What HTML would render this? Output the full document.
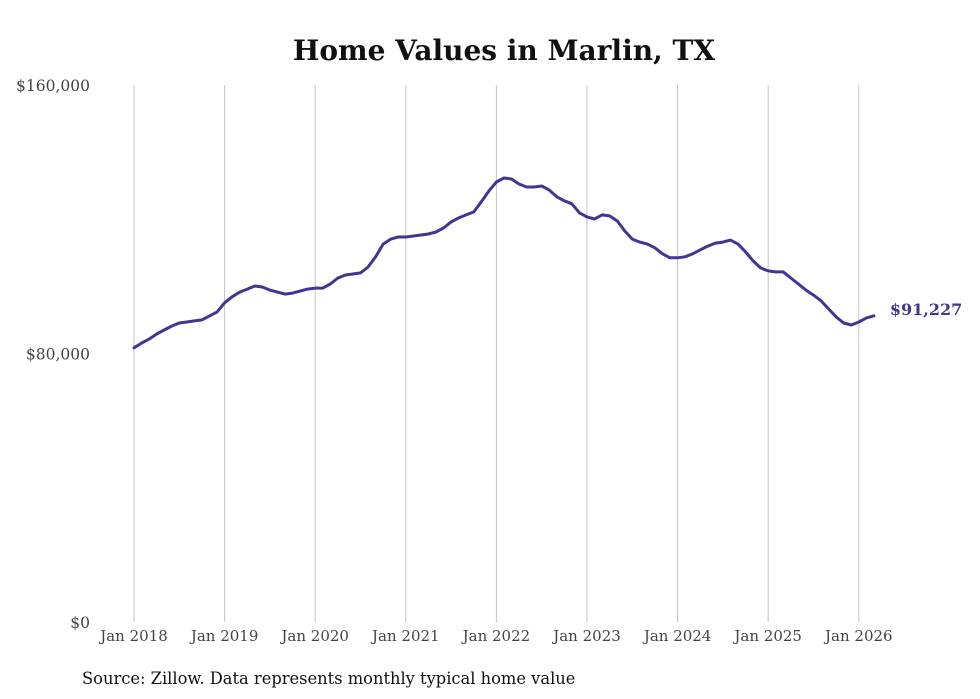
<!DOCTYPE html>
<html><head><meta charset="utf-8"><style>
html,body{margin:0;padding:0;background:#fff;}
svg{display:block;font-family:"DejaVu Serif","Liberation Serif",serif;}
</style></head><body>
<svg id="chart" width="980" height="699" viewBox="0 0 980 699">
<text x="504" y="60" text-anchor="middle" font-size="28" font-weight="bold" fill="#111">Home Values in Marlin, TX</text>
<g id="grid"></g>
<g id="yaxis"></g>
<g id="xaxis"></g>
<g id="series"></g>
<text x="82" y="684" font-size="16.3" fill="#111">Source: Zillow. Data represents monthly typical home value</text>
</svg>
<script>
const yTicks=[0,80000,160000];
const yTickLabels=["$0","$80,000","$160,000"];
const xTickYears=[2018,2019,2020,2021,2022,2023,2024,2025,2026];
const xTickLabels=["Jan 2018","Jan 2019","Jan 2020","Jan 2021","Jan 2022","Jan 2023","Jan 2024","Jan 2025","Jan 2026"];
const startYear=2018;
const valuesK=[
81.7,83.1,84.3,85.8,87.0,88.2,89.1,89.4,89.7,90.0,91.2,92.4,
95.1,96.9,98.3,99.2,100.1,99.8,98.9,98.3,97.7,98.0,98.6,99.2,
99.5,99.5,100.7,102.5,103.4,103.7,104.0,105.8,108.8,112.6,114.1,114.7,
114.7,115.0,115.3,115.6,116.2,117.4,119.2,120.4,121.3,122.2,125.2,128.4,
131.1,132.3,132.0,130.5,129.6,129.6,129.9,128.7,126.7,125.5,124.6,121.9,
120.7,120.1,121.3,121.0,119.5,116.5,114.1,113.2,112.6,111.5,109.7,108.5,
108.5,108.8,109.7,110.9,112.0,112.9,113.2,113.8,112.6,110.3,107.6,105.5,
104.6,104.3,104.3,102.5,100.7,98.9,97.4,95.7,93.3,90.9,89.1,88.5,
89.4,90.6,91.227];
const lastLabel="$91,227";
const NS="http://www.w3.org/2000/svg";
function yScale(v){return 622-(v/160000)*537;}
function xScale(monthIdx){return 134+(monthIdx/12)*90.6;}
function mk(tag,attrs,parent){const e=document.createElementNS(NS,tag);for(const k in attrs)e.setAttribute(k,attrs[k]);parent.appendChild(e);return e;}
const grid=document.getElementById('grid'),ya=document.getElementById('yaxis'),xa=document.getElementById('xaxis'),ser=document.getElementById('series');
xTickYears.forEach((yr,i)=>{
  const x=xScale((yr-startYear)*12);
  const l=mk('line',{x1:x,x2:x,y1:85,y2:622,stroke:'#c4c4c4','stroke-width':1},grid);
  
  
  const t=mk('text',{x:x,y:641,'text-anchor':'middle','font-size':15,fill:'#444'},xa);
  t.textContent=xTickLabels[i];
  
  
});
yTicks.forEach((v,i)=>{
  const t=mk('text',{x:90,y:yScale(v)+6,'text-anchor':'end','font-size':15.5,fill:'#444'},ya);
  t.textContent=yTickLabels[i];
  
  
});
const d=valuesK.map((v,i)=>(i?'L':'M')+xScale(i).toFixed(1)+','+yScale(v*1000).toFixed(1)).join(' ');
const p=mk('path',{d:d,fill:'none',stroke:'#3f3793','stroke-width':3,'stroke-linejoin':'round','stroke-linecap':'round'},ser);


const li=valuesK.length-1;
const lt=mk('text',{x:xScale(li)+16,y:yScale(valuesK[li]*1000)-1,'font-size':16,'font-weight':'bold',fill:'#3f3793'},ser);
lt.textContent=lastLabel;


</script>
</body></html>
